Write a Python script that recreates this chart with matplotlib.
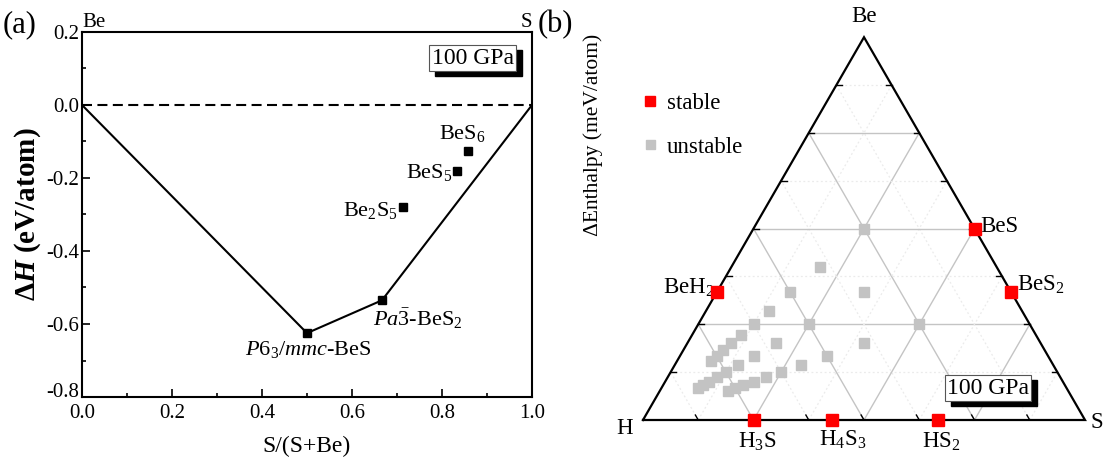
import numpy as np
import matplotlib
matplotlib.use("Agg")
import matplotlib.pyplot as plt
from matplotlib import transforms
from matplotlib.patches import Rectangle

plt.rcParams['font.family'] = ['Liberation Serif', 'DejaVu Serif']
plt.rcParams['mathtext.fontset'] = 'custom'
plt.rcParams['mathtext.rm'] = 'Liberation Serif'
plt.rcParams['mathtext.it'] = 'Liberation Serif:italic'
plt.rcParams['mathtext.bf'] = 'Liberation Serif:bold'
plt.rcParams['mathtext.bfit'] = 'Liberation Serif:italic:bold'

# (a) convex hull Be-S
hull_x = [0.0, 0.5, 2/3, 1.0]
hull_y = [0.0, -0.625, -0.535, 0.0]
pts_x = [0.5, 2/3, 5/7, 5/6, 6/7]
pts_y = [-0.625, -0.535, -0.28, -0.18, -0.125]
pts_lab = [r"$P$6$_3$/$mmc$-BeS", r"$Pa\bar{3}$-BeS$_2$", "Be$_2$S$_5$", "BeS$_5$", "BeS$_6$"]
lab_off = [(1, -16), (-9, -18), (-6, -3), (-5, -2), (-5, 17)]
lab_ha = ['center', 'left', 'right', 'right', 'center']

# (b) ternary H-S-Be, fractions (Be, S)
stable_be = [1/3, 1/2, 1/3, 0, 0, 0]
stable_s = [0, 1/2, 2/3, 1/4, 3/7, 2/3]
stable_lab = ["BeH$_2$", "BeS", "BeS$_2$", "H$_3$S", "H$_4$S$_3$", "HS$_2$"]
stable_off = [(-2, 5), (6, 2), (6, 8), (4, -22), (10, -20), (4, -22)]
stable_ha = ['right', 'left', 'left', 'center', 'center', 'center']

unst_be = [1/2, 2/5, 1/3, 1/3, 2/7, 1/4, 1/4, 1/4, 2/9, 1/5, 1/5, 1/5, 2/11, 1/6, 1/6, 1/6,
           2/13, 1/7, 1/7, 1/8, 1/9, 1/10, 1/11, 1/12, 1/13, 1/8, 1/9, 1/10, 1/11, 1/12]
unst_s = [1/4, 1/5, 1/6, 1/3, 1/7, 1/8, 1/4, 1/2, 1/9, 1/10, 1/5, 2/5, 1/11, 1/12, 1/6, 1/3,
          1/13, 1/7, 2/7, 2/8, 2/9, 2/10, 2/11, 2/12, 2/13, 1/8, 1/9, 1/10, 1/11, 1/12]

fig = plt.figure(figsize=(11.09, 4.61), dpi=100)
W, H = 1109, 461

# ---------- panel (a) ----------
ax = fig.add_axes([82/W, 64/H, 450/W, 365/H])
ax.plot(hull_x, hull_y, color='k', lw=1.5)
ax.axhline(0, color='k', lw=1.5, dashes=(4.8, 2.6))
ax.plot(pts_x, pts_y, 's', color='k', ms=5.5, ls='none')
for x, y, s, o, ha in zip(pts_x, pts_y, pts_lab, lab_off, lab_ha):
    ax.annotate(s, (x, y), xytext=o, textcoords='offset pixels', ha=ha, va='center', fontsize=16)
ax.set_xlim(0, 1)
ax.set_ylim(-0.8, 0.2)
ax.set_xticks(np.arange(0, 1.01, 0.2))
ax.set_xticks(np.arange(0.1, 1, 0.2), minor=True)
ax.set_yticks(np.arange(-0.8, 0.21, 0.2))
ax.set_yticks(np.arange(-0.7, 0.2, 0.2), minor=True)
ax.xaxis.set_major_formatter(plt.FuncFormatter(lambda v, p: "%.1f" % v))
ax.yaxis.set_major_formatter(plt.FuncFormatter(lambda v, p: "%.1f" % v if abs(v) > 1e-9 else "0.0"))
ax.tick_params(direction='in', which='major', length=6, width=1.2, labelsize=15, pad=2)
ax.tick_params(axis='x', which='major', pad=5)
ax.tick_params(direction='in', which='minor', length=3, width=1.2)
ylbls = ax.get_yticklabels()
for lbl in ylbls:
    lbl.set_verticalalignment('center_baseline')
ylbls[0].set_verticalalignment('baseline')
for sp in ax.spines.values():
    sp.set_linewidth(1.5)
ax.set_xlabel("S/(S+Be)", fontsize=17, labelpad=9)
ax.set_ylabel(r"Δ$\mathbfit{H}$ (eV/atom)", fontsize=21, fontweight='bold', labelpad=2)
ax.text(0.0, 1.0, "Be", transform=ax.transAxes, fontsize=15, ha='left', va='bottom')
ax.text(1.0, 1.0, "S", transform=ax.transAxes, fontsize=15, ha='right', va='bottom')
fig.text(3/W, 1 - 25/H, "(a)", fontsize=22, va='center', ha='left')
fig.text(538/W, 1 - 25/H, "(b)", fontsize=22, va='center', ha='left')

boxes = []


def gpa_box(a, x, y, trans):
    t = a.text(x, y, "100 GPa", transform=trans, fontsize=17, ha='center', va='center', color='k',
               bbox=dict(boxstyle='square,pad=0.1', fc='white', ec='#555555', lw=0.8), zorder=9,
               clip_on=False)
    boxes.append((a, t))


gpa_box(ax, 0.868, 0.928, ax.transAxes)

# ---------- panel (b) ----------
h = np.sqrt(3) / 2
bx = fig.add_axes([643/W, 41/H, 442/W, 442*h/H])
bx.set_xlim(0, 1)
bx.set_ylim(0, h)
bx.axis('off')


def cart(be, s):
    return s + be / 2.0, be * h


for k in range(1, 8):
    t = k / 8
    if k % 2 == 0:
        kw = dict(color='#c4c4c4', lw=1.0, zorder=1)
    else:
        kw = dict(color='#ebebeb', lw=0.9, ls=(0, (1.5, 2)), zorder=1)
    # const Be
    p1, p2 = cart(t, 0), cart(t, 1 - t)
    bx.plot([p1[0], p2[0]], [p1[1], p2[1]], **kw)
    # const S
    p1, p2 = cart(0, t), cart(1 - t, t)
    bx.plot([p1[0], p2[0]], [p1[1], p2[1]], **kw)
    # const H
    p1, p2 = cart(0, 1 - t), cart(1 - t, 0)
    bx.plot([p1[0], p2[0]], [p1[1], p2[1]], **kw)
    # edge ticks
    L = 0.013
    x, y = cart(t, 0)
    bx.plot([x, x + L], [y, y], color='k', lw=1.0, zorder=3)
    x, y = cart(t, 1 - t)
    bx.plot([x, x - L], [y, y], color='k', lw=1.0, zorder=3)
    x, y = cart(0, t)
    bx.plot([x, x - L / 2], [y, y + L * h], color='k', lw=1.0, zorder=3)

tri = np.array([cart(0, 0), cart(0, 1), cart(1, 0), cart(0, 0)])
bx.plot(tri[:, 0], tri[:, 1], color='k', lw=1.6, zorder=4, clip_on=False, solid_joinstyle='miter')

ux, uy = cart(np.array(unst_be), np.array(unst_s))
bx.plot(ux, uy, 's', color='#c3c3c3', ms=7.2, ls='none', zorder=5, label='unstable', clip_on=False)
sx, sy = cart(np.array(stable_be), np.array(stable_s))
bx.plot(sx, sy, 's', color='#ff0000', ms=8.4, ls='none', zorder=6, label='stable', clip_on=False)
for x, y, s, o, ha in zip(sx, sy, stable_lab, stable_off, stable_ha):
    bx.annotate(s, (x, y), xytext=o, textcoords='offset pixels', ha=ha, va='center', fontsize=16.5)

bx.annotate("Be", cart(1, 0), xytext=(0, 10), textcoords='offset pixels', ha='center', va='bottom', fontsize=16.5)
bx.annotate("H", cart(0, 0), xytext=(-18, -8), textcoords='offset pixels', ha='center', va='center', fontsize=16.5)
bx.annotate("S", cart(0, 1), xytext=(12, -2), textcoords='offset pixels', ha='center', va='center', fontsize=16.5)

handles, labels = bx.get_legend_handles_labels()
bx.legend(handles[::-1], labels[::-1], loc='center left', bbox_to_anchor=(627/W, 1 - 125/H),
          bbox_transform=fig.transFigure, frameon=False, fontsize=16.5, handlelength=1.0,
          handletextpad=0.25, labelspacing=1.0, borderpad=0, markerscale=0.9)

fig.text(593/W, 1 - 135/H, "ΔEnthalpy (meV/atom)", rotation=90, fontsize=15.5, ha='center', va='center')

gpa_box(bx, (988 - 643)/442, (420 - 388)/442, bx.transData)

# drop shadows behind the "100 GPa" boxes
fig.canvas.draw()
rend = fig.canvas.get_renderer()
for a, t in boxes:
    bb = t.get_bbox_patch().get_window_extent(rend)
    a.add_patch(Rectangle((bb.x0 + 6, bb.y0 - 5), bb.width, bb.height, fc='k', ec='k',
                          transform=transforms.IdentityTransform(), zorder=8, clip_on=False))

fig.savefig("out.png", dpi=100)
